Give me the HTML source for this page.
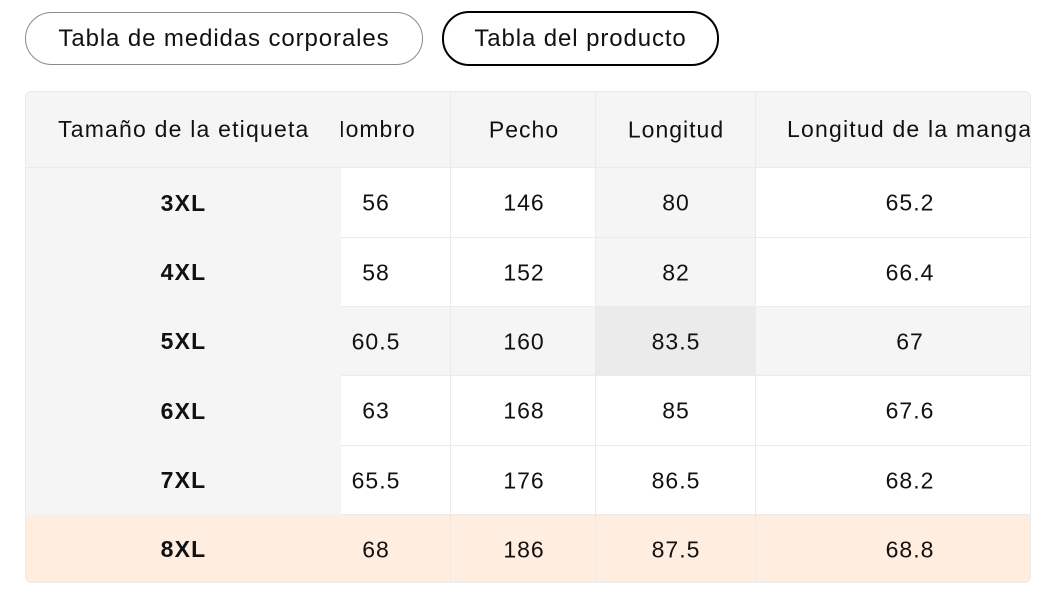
<!DOCTYPE html>
<html><head><meta charset="utf-8"><style>
body{margin:0;width:1060px;height:612px;background:#fff;font-family:"Liberation Sans",sans-serif;color:#111;position:relative;overflow:hidden}
.b{position:absolute;box-sizing:border-box;border-radius:27px;font-size:24px;letter-spacing:0.9px;display:flex;align-items:center;justify-content:center}
.c{position:absolute;box-sizing:border-box;display:flex;align-items:center;justify-content:center;font-size:23px;letter-spacing:1.2px;border-right:1px solid #ebebeb;border-bottom:1px solid #ebebeb;overflow:hidden;white-space:nowrap}
.t{position:absolute;font-size:23px;letter-spacing:1px;white-space:nowrap;transform:translate(-50%,-50%)}
</style></head><body>
<div class="b" style="left:25px;top:12px;width:398px;height:53px;border:1px solid #8a8a8a">Tabla de medidas corporales</div>
<div class="b" style="left:442px;top:11px;width:277px;height:55px;border:2px solid #000">Tabla del producto</div>
<div style="position:absolute;left:25px;top:91px;width:1006px;height:492px;border:1px solid #ebebeb;border-radius:6px;overflow:hidden;box-sizing:border-box">
<div id="g" style="position:absolute;left:-25px;top:-91px;width:1060px;height:612px"></div>
</div>
<script>
const g=document.getElementById('g');
const rows=[91,167,237,306,375,445,514,583];
const cols=[340,450,595,755,1031];
const data=[["Hombro","Pecho","Longitud","Longitud de la manga"],["56","146","80","65.2"],["58","152","82","66.4"],["60.5","160","83.5","67"],["63","168","85","67.6"],["65.5","176","86.5","68.2"],["68","186","87.5","68.8"]];
const sizes=["Tamaño de la etiqueta","3XL","4XL","5XL","6XL","7XL","8XL"];
const tx=[375,523,675,909];
let h='';
for(let r=0;r<7;r++){
 const y=rows[r],hh=rows[r+1]-y;
 for(let c=0;c<4;c++){
  let bg='#fff';
  if(r==0)bg='#f5f5f5';else if(r==6)bg='#ffeee0';else if(r==3)bg=(c==2?'#ebebeb':'#f5f5f5');else if(c==2&&r<3)bg='#f5f5f5';
  h+=`<div class="c" style="left:${cols[c]}px;top:${y}px;width:${cols[c+1]-cols[c]}px;height:${hh}px;background:${bg}"></div>`;
  const lbl=data[r][c];
  if(r==0&&c==0)h+=`<div style="position:absolute;left:327px;top:${y+hh/2-14}px;font-size:23px;letter-spacing:1px;white-space:nowrap">Hombro</div>`;
  else if(r==0&&c==3)h+=`<div style="position:absolute;left:786px;top:${y+hh/2-14}px;font-size:23px;letter-spacing:1.2px;white-space:nowrap;width:245px;overflow:hidden">${lbl}</div>`;
  else h+=`<div class="t" style="left:${tx[c]}px;top:${y+hh/2}px">${lbl}</div>`;
 }
 const sbg=r==6?'#ffeee0':'#f5f5f5';
 if(r==0) h+=`<div class="c" style="left:25px;top:${y}px;width:315px;height:${hh}px;background:${sbg};border-right:none;justify-content:flex-start;padding-left:32px">${sizes[r]}</div>`;
 else h+=`<div class="c" style="left:25px;top:${y}px;width:315px;height:${hh}px;background:${sbg};border-right:none;${r<6?'border-bottom:none':''};font-weight:bold">${sizes[r]}</div>`;
}
g.innerHTML=h;
</script>
</body></html>
